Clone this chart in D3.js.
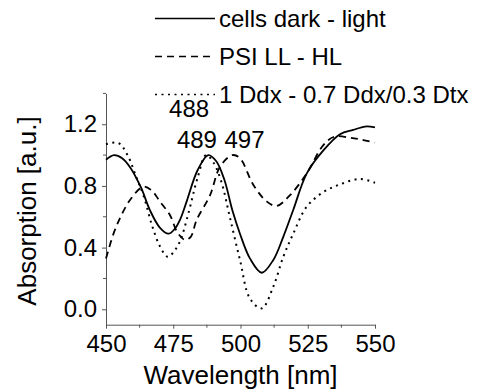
<!DOCTYPE html>
<html>
<head>
<meta charset="utf-8">
<script src="https://cdn.jsdelivr.net/npm/d3@7"></script>
<style>
  body { margin: 0; background: #fff; }
  text { font-family: "Liberation Sans", Arial, sans-serif; fill: #000; }
</style>
</head>
<body>
<div id="chart"></div>
<script>
// series: wavelength (nm) and absorption (a.u.)
const cellsWl  = [450, 453, 456, 459, 463, 466.4, 470, 473.2, 475.5, 477.5, 480, 484, 488, 491, 494, 497, 499.8, 503.5, 507.9, 512.2, 515.9, 519.6, 524.6, 530.8, 537, 541.9, 546.3, 550];
const cellsAbs = [0.97, 1.0, 0.98, 0.92, 0.79, 0.64, 0.53, 0.49, 0.52, 0.58, 0.70, 0.90, 1.0, 0.96, 0.84, 0.64, 0.49, 0.33, 0.237, 0.32, 0.47, 0.644, 0.88, 1.03, 1.135, 1.163, 1.185, 1.18];

const psiWl  = [450, 453, 456, 459, 463.8, 467, 470, 473.8, 476.5, 479.4, 481.5, 483.7, 488.7, 492.4, 497, 499.8, 504.8, 509.7, 513.4, 518.4, 524.6, 530.8, 535, 540.7, 545, 550];
const psiAbs = [0.33, 0.5, 0.62, 0.71, 0.795, 0.77, 0.7, 0.61, 0.5, 0.45, 0.47, 0.58, 0.74, 0.925, 1.0, 0.98, 0.806, 0.70, 0.67, 0.74, 0.88, 1.065, 1.12, 1.113, 1.10, 1.08];

const ddxWl  = [450, 454.5, 458, 461.4, 463.9, 467, 470, 473, 475.5, 477.7, 480.6, 484, 487.2, 490, 493, 496, 499.8, 503.5, 507.9, 512.2, 515.9, 519.6, 524.6, 530.8, 537, 544.4, 550];
const ddxAbs = [1.07, 1.08, 1.0, 0.85, 0.74, 0.55, 0.41, 0.34, 0.38, 0.45, 0.62, 0.85, 1.0, 0.95, 0.82, 0.6, 0.32, 0.07, 0.006, 0.147, 0.34, 0.49, 0.665, 0.76, 0.81, 0.845, 0.82];

const legendLabels = ["cells dark - light", "PSI LL - HL", "1 Ddx - 0.7 Ddx/0.3 Dtx"];
const xTicks = [450, 475, 500, 525, 550];
const xMinor = [462.5, 487.5, 512.5, 537.5];
const yTicks = [0.0, 0.4, 0.8, 1.2];
const yMinor = [0.2, 0.6, 1.0, 1.4];
const peakLabels = [{text: "488", x: 480.9, y: 1.247}, {text: "489", x: 483.8, y: 1.046}, {text: "497", x: 501.5, y: 1.046}];

const W = 498, H = 392;
const svg = d3.select("#chart").append("svg")
  .attr("width", W).attr("height", H);

const x = d3.scaleLinear().domain([450, 550]).range([106, 375]);
const y = d3.scaleLinear().domain([-0.1, 1.4]).range([324.7, 93.4]);

const axisColor = "#555";

// x axis
const gx = svg.append("g").attr("transform", `translate(0,${y(-0.1)})`)
  .call(d3.axisBottom(x).tickValues(xTicks).tickFormat(d3.format("d"))
    .tickSize(4).tickSizeOuter(0).tickPadding(6));
gx.append("g").selectAll("line").data(xMinor).join("line")
  .attr("x1", d => x(d)).attr("x2", d => x(d)).attr("y1", 0).attr("y2", 3);

// y axis
const gy = svg.append("g").attr("transform", `translate(${x(450)},0)`)
  .call(d3.axisLeft(y).tickValues(yTicks).tickFormat(d3.format(".1f"))
    .tickSize(4).tickSizeOuter(0).tickPadding(5));
gy.append("g").selectAll("line").data(yMinor).join("line")
  .attr("x1", 0).attr("x2", -3).attr("y1", d => y(d)).attr("y2", d => y(d));

svg.selectAll(".domain, .tick line, g > g > line")
  .attr("stroke", axisColor).attr("stroke-width", 1);
svg.selectAll(".tick text").style("font-size", "24px").attr("fill", "#000");

// axis titles
svg.append("text").attr("x", x(500)).attr("y", 384)
  .attr("text-anchor", "middle").style("font-size", "26px")
  .text("Wavelength [nm]");
svg.append("text").attr("transform", "translate(36,211) rotate(-90)")
  .attr("text-anchor", "middle").style("font-size", "26px")
  .text("Absorption [a.u.]");

// curves
const styles = [
  {dash: null, width: 1.8},
  {dash: "7,5", width: 1.8},
  {dash: "2,4.5", width: 2}
];
const series = [
  d3.zip(cellsWl, cellsAbs),
  d3.zip(psiWl, psiAbs),
  d3.zip(ddxWl, ddxAbs)
];
const line = d3.line()
  .x(d => x(d[0])).y(d => y(d[1]))
  .curve(d3.curveCatmullRom.alpha(0.5));

series.forEach((s, i) => {
  svg.append("path").datum(s)
    .attr("fill", "none").attr("stroke", "#000")
    .attr("stroke-width", styles[i].width)
    .attr("stroke-dasharray", styles[i].dash)
    .attr("d", line);
});

// peak labels
svg.selectAll(".peak").data(peakLabels).join("text")
  .attr("class", "peak")
  .attr("x", d => x(d.x)).attr("y", d => y(d.y))
  .attr("text-anchor", "middle").style("font-size", "24px")
  .text(d => d.text);

// legend
const leg = svg.append("g");
legendLabels.forEach((lab, i) => {
  const by = 27 + i * 38;
  leg.append("line")
    .attr("x1", 155).attr("x2", 215).attr("y1", by - 8.5).attr("y2", by - 8.5)
    .attr("stroke", "#000").attr("stroke-width", i === 2 ? 1.5 : 1.3)
    .attr("stroke-dasharray", i === 1 ? "7,5" : i === 2 ? "2,4.5" : null);
  leg.append("text").attr("x", 219).attr("y", by)
    .style("font-size", "24px").text(lab);
});
</script>
</body>
</html>
